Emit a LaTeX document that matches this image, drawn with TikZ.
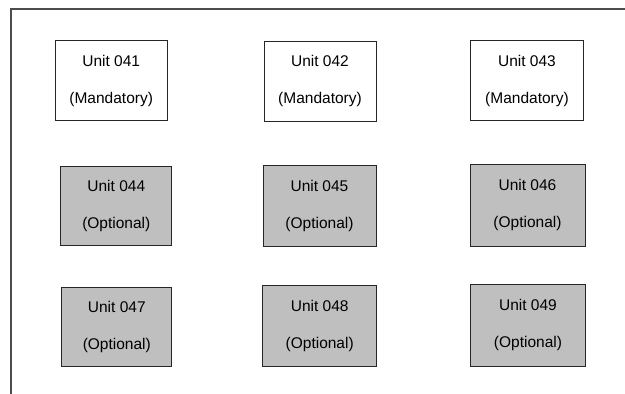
\documentclass[tikz,border=0pt]{standalone}
\usepackage{fontspec}
\setmainfont{Liberation Sans}
\begin{document}
\begin{tikzpicture}[x=1pt, y=-1pt,
	unitbox/.style={draw=black!85, line width=0.9pt, minimum width=112pt, minimum height=80pt,
		align=center, inner sep=0pt, font=\fontsize{15.5}{37}\selectfont},
	mandbox/.style={unitbox, fill=white},
	optbox/.style={unitbox, fill=black!25}]
	
	\useasboundingbox (0,0) rectangle (625,394);
	
	% Rahmen
	\draw[black!70, line width=1.2pt] (11,394) -- (11,9) -- (625,9);
	
	% Pflichtmodule
	\node[mandbox] (u041) at (111.2,80.8) {Unit 041\\(Mandatory)};
	\node[mandbox] (u042) at (320,81) {Unit 042\\(Mandatory)};
	\node[mandbox, minimum width=113pt] (u043) at (527,80.5) {Unit 043\\(Mandatory)};
	
	% Wahlmodule
	\node[optbox, minimum width=111pt, minimum height=79pt] (u044) at (116.3,206.3) {Unit 044\\(Optional)};
	\node[optbox, minimum width=113pt, minimum height=81pt] (u045) at (319.5,205.5) {Unit 045\\(Optional)};
	\node[optbox, minimum width=115pt, minimum height=82pt] (u046) at (527.5,205) {Unit 046\\(Optional)};
	\node[optbox, minimum width=110pt, minimum height=79pt] (u047) at (116.8,327) {Unit 047\\(Optional)};
	\node[optbox, minimum width=114pt, minimum height=81pt] (u048) at (319.7,325.5) {Unit 048\\(Optional)};
	\node[optbox, minimum width=115pt, minimum height=82pt] (u049) at (528,325) {Unit 049\\(Optional)};
	
\end{tikzpicture}
\end{document}
